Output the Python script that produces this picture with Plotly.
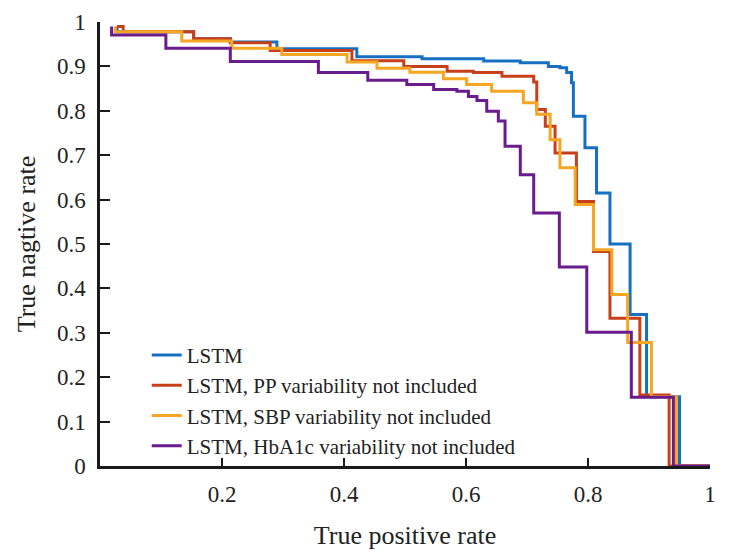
import plotly.graph_objects as go

# ---- data ----
series_names = [
    "LSTM",
    "LSTM, PP variability not included",
    "LSTM, SBP variability not included",
    "LSTM, HbA1c variability not included",
]

blue_tpr = [0.028, 0.028, 0.1535, 0.2136, 0.290, 0.421, 0.528, 0.629, 0.689, 0.735, 0.754,
            0.765, 0.773, 0.776, 0.795, 0.814, 0.836, 0.869, 0.896, 0.950, 1.0]
blue_tnr = [0.99, 0.978, 0.962, 0.955, 0.940, 0.922, 0.917, 0.912, 0.908, 0.900, 0.897,
            0.886, 0.863, 0.788, 0.717, 0.615, 0.500, 0.341, 0.156, 0.0, 0.0]

red_tpr = [0.028, 0.038, 0.1535, 0.2136, 0.279, 0.413, 0.498, 0.569, 0.612, 0.659, 0.711,
           0.716, 0.730, 0.746, 0.781, 0.809, 0.836, 0.885, 0.933, 1.0]
red_tnr = [0.99, 0.978, 0.962, 0.953, 0.936, 0.913, 0.900, 0.889, 0.886, 0.878, 0.865,
           0.803, 0.765, 0.705, 0.596, 0.483, 0.333, 0.160, 0.0, 0.0]

orange_tpr = [0.025, 0.025, 0.134, 0.216, 0.298, 0.405, 0.454, 0.508, 0.563, 0.601, 0.642,
              0.694, 0.716, 0.738, 0.754, 0.779, 0.809, 0.839, 0.865, 0.904, 0.945, 1.0]
orange_tnr = [0.99, 0.978, 0.957, 0.941, 0.927, 0.910, 0.896, 0.887, 0.872, 0.859, 0.844,
              0.818, 0.792, 0.735, 0.672, 0.589, 0.487, 0.386, 0.278, 0.156, 0.0, 0.0]

purple_tpr = [0.019, 0.019, 0.108, 0.2136, 0.358, 0.439, 0.503, 0.547, 0.585, 0.604, 0.618,
              0.634, 0.653, 0.664, 0.689, 0.711, 0.753, 0.798, 0.871, 0.940, 1.0]
purple_tnr = [0.99, 0.971, 0.941, 0.911, 0.886, 0.869, 0.859, 0.848, 0.844, 0.832, 0.823,
              0.799, 0.777, 0.720, 0.656, 0.570, 0.448, 0.301, 0.155, 0.0, 0.0]

x_ticks = [0.2, 0.4, 0.6, 0.8, 1.0]
x_tick_text = ["0.2", "0.4", "0.6", "0.8", "1"]
y_ticks = [0, 0.1, 0.2, 0.3, 0.4, 0.5, 0.6, 0.7, 0.8, 0.9, 1.0]
y_tick_text = ["0", "0.1", "0.2", "0.3", "0.4", "0.5", "0.6", "0.7", "0.8", "0.9", "1"]

colors = ["#1670c2", "#c8401a", "#f5a623", "#6a1b8c"]

FONT = "Liberation Serif, Times New Roman, serif"

fig = go.Figure()
for name, xs, ys, c in zip(series_names,
                           [blue_tpr, red_tpr, orange_tpr, purple_tpr],
                           [blue_tnr, red_tnr, orange_tnr, purple_tnr],
                           colors):
    fig.add_trace(go.Scatter(x=xs, y=ys, mode="lines", name=name,
                             line=dict(color=c, width=3, shape="hv")))


def axis_style():
    return dict(
        showgrid=False, zeroline=False, showline=True, linecolor="#1a1a1a", linewidth=2.5,
        ticks="inside", tickcolor="#1a1a1a", tickwidth=2, automargin=False,
        tickfont=dict(family=FONT, size=23, color="#222"),
    )


fig.update_layout(
    width=737, height=560,
    margin=dict(l=100, r=27, t=22, b=94),
    paper_bgcolor="white", plot_bgcolor="white",
    font=dict(family=FONT, size=21, color="#222"),
    showlegend=True,
    legend=dict(x=0.0766, y=0.2955, xanchor="left", yanchor="top",
                bgcolor="rgba(0,0,0,0)", font=dict(family=FONT, size=21, color="#222"),
                tracegroupgap=0),
    xaxis=dict(range=[0, 1], tickvals=x_ticks, ticktext=x_tick_text, ticklen=8,
               ticklabelstandoff=6,
               title=dict(text="True positive rate", standoff=20,
                          font=dict(family=FONT, size=26, color="#222")),
               **axis_style()),
    yaxis=dict(range=[0, 1], tickvals=y_ticks, ticktext=y_tick_text, ticklen=10,
               ticklabelstandoff=7,
               title=dict(text="True nagtive rate", standoff=14,
                          font=dict(family=FONT, size=26, color="#222")),
               **axis_style()),
)

fig.write_html("out.html",
               config={"displayModeBar": False},
               post_script="document.body.style.margin='0';document.body.style.padding='0';")
